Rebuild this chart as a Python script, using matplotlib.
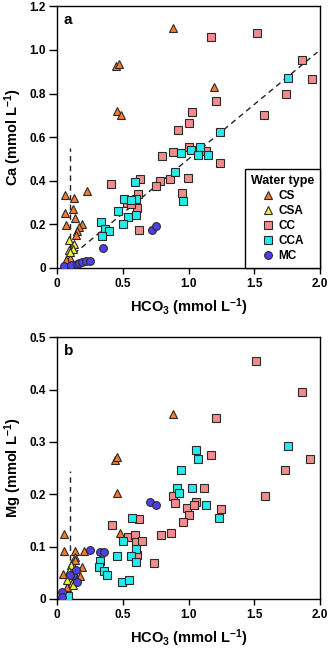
import matplotlib
matplotlib.use("Agg")
import matplotlib.pyplot as plt
from matplotlib.ticker import FuncFormatter

plt.rcParams['font.family'] = ['Liberation Sans', 'DejaVu Sans']
plt.rcParams['font.weight'] = 'bold'
plt.rcParams['mathtext.fontset'] = 'custom'
plt.rcParams['mathtext.rm'] = 'Liberation Sans:bold'
plt.rcParams['mathtext.default'] = 'rm'

# --- DATA: panel a (Ca vs HCO3) ---
cs_a_x = [0.88, 0.45, 0.47, 0.46, 0.49, 1.19, 0.23, 0.06, 0.13, 0.06, 0.12, 0.07, 0.14, 0.19, 0.17, 0.15, 0.147, 0.10, 0.066]
cs_a_y = [1.10, 0.925, 0.935, 0.72, 0.70, 0.83, 0.355, 0.336, 0.32, 0.25, 0.27, 0.195, 0.23, 0.20, 0.19, 0.17, 0.153, 0.046, 0.035]

csa_a_x = [0.09, 0.13, 0.09, 0.12, 0.10]
csa_a_y = [0.13, 0.11, 0.084, 0.086, 0.075]

cc_a_x = [1.17, 1.52, 1.86, 1.94, 1.74, 1.57, 1.21, 1.03, 1.00, 0.92, 0.80, 0.88, 1.007, 1.13, 1.24,
          0.78, 0.756, 0.63, 0.86, 0.994, 0.95, 0.616, 0.61, 0.62, 0.41, 0.53, 0.566]
cc_a_y = [1.06, 1.078, 0.955, 0.867, 0.80, 0.70, 0.767, 0.717, 0.665, 0.631, 0.512, 0.533, 0.556, 0.537, 0.482,
          0.40, 0.378, 0.41, 0.41, 0.414, 0.342, 0.34, 0.277, 0.175, 0.385, 0.30, 0.295]

cca_a_x = [1.755, 1.24, 0.94, 1.02, 1.085, 1.07, 1.15, 0.90, 0.596, 0.96, 0.51, 0.60, 0.566, 0.464, 0.54,
           0.60, 0.50, 0.332, 0.363, 0.395, 0.345]
cca_a_y = [0.873, 0.624, 0.529, 0.54, 0.556, 0.517, 0.52, 0.44, 0.394, 0.309, 0.318, 0.316, 0.31, 0.26, 0.234,
           0.244, 0.20, 0.21, 0.18, 0.168, 0.148]

mc_a_x = [0.05, 0.11, 0.15, 0.17, 0.19, 0.22, 0.25, 0.35, 0.725, 0.75]
mc_a_y = [0.007, 0.015, 0.02, 0.024, 0.027, 0.03, 0.033, 0.092, 0.176, 0.194]

# --- DATA: panel b (Mg vs HCO3) ---
cs_b_x = [0.88, 0.44, 0.46, 0.456, 0.477, 0.053, 0.051, 0.135, 0.205, 0.14, 0.117, 0.135, 0.187, 0.046, 0.097, 0.178, 0.076, 0.084]
cs_b_y = [0.353, 0.266, 0.272, 0.202, 0.126, 0.124, 0.092, 0.092, 0.092, 0.08, 0.068, 0.075, 0.062, 0.048, 0.048, 0.043, 0.022, 0.036]

csa_b_x = [0.11, 0.09, 0.127, 0.10, 0.08, 0.114, 0.12]
csa_b_y = [0.065, 0.054, 0.05, 0.041, 0.036, 0.03, 0.026]

cc_b_x = [1.51, 1.86, 1.207, 1.174, 1.92, 1.73, 1.12, 1.58, 0.88, 0.895, 0.99, 1.06, 1.04, 1.00, 0.96, 1.245,
          0.87, 0.79, 0.42, 0.54, 0.59, 0.60, 0.645, 0.62, 0.61, 0.74]
cc_b_y = [0.454, 0.396, 0.345, 0.275, 0.267, 0.247, 0.213, 0.196, 0.197, 0.183, 0.173, 0.186, 0.179, 0.16, 0.148, 0.172,
          0.127, 0.122, 0.141, 0.119, 0.122, 0.108, 0.11, 0.152, 0.084, 0.069]

cca_b_x = [1.06, 1.07, 1.76, 0.94, 0.91, 1.03, 0.93, 1.136, 1.23, 0.57, 0.50, 0.60, 0.566, 0.60, 0.456, 0.33,
           0.317, 0.358, 0.383, 0.497, 0.547, 0.084]
cca_b_y = [0.285, 0.268, 0.293, 0.247, 0.213, 0.213, 0.202, 0.18, 0.154, 0.155, 0.11, 0.095, 0.082, 0.07, 0.083, 0.073,
           0.061, 0.054, 0.045, 0.033, 0.036, 0.006]

mc_b_x = [0.035, 0.04, 0.12, 0.145, 0.15, 0.10, 0.25, 0.33, 0.36, 0.71, 0.75]
mc_b_y = [0.013, 0.004, 0.045, 0.055, 0.033, 0.046, 0.093, 0.09, 0.09, 0.185, 0.18]

# reference lines
ratio_x = [0.13, 1.98]
ratio_slope = 0.5
vline_x = 0.10
vline_top_a = 0.55
vline_top_b = 0.245

# --- STYLE ---
styles = {
    'CS':  dict(marker='^', color='#F47C2C', ms=6.2),
    'CSA': dict(marker='^', color='#F2F03A', ms=6.2),
    'CC':  dict(marker='s', color='#F28C8C', ms=5.4),
    'CCA': dict(marker='s', color='#22ECEC', ms=5.4),
    'MC':  dict(marker='o', color='#4F3FEA', ms=5.6),
}

def fmt(v, pos):
    if abs(v) < 1e-9:
        return '0'
    return '%.1f' % v


def draw_panel(ax, series, ylim, yticks, ylabel, letter, vtop):
    ax.plot([vline_x, vline_x], [0, vtop], ls=(0, (4, 3)), color='#222222', lw=1.0, zorder=1)
    for name, (xs, ys) in series.items():
        st = styles[name]
        ax.plot(xs, ys, ls='none', marker=st['marker'], ms=st['ms'], mfc=st['color'],
                mec='#2a2a2a', mew=0.8, label=name, zorder=3)
    ax.set_xlim(0, 2.0)
    ax.set_ylim(*ylim)
    ax.set_xticks([0, 0.5, 1.0, 1.5, 2.0])
    ax.set_yticks(yticks)
    ax.xaxis.set_major_formatter(FuncFormatter(fmt))
    ax.yaxis.set_major_formatter(FuncFormatter(fmt))
    ax.tick_params(axis='y', direction='out', length=6, width=1.0, labelsize=8.5, pad=2)
    ax.tick_params(axis='x', direction='out', length=4.5, width=1.0, labelsize=8.5, pad=3)
    for lab in ax.get_xticklabels() + ax.get_yticklabels():
        lab.set_fontweight('bold')
    for sp in ax.spines.values():
        sp.set_linewidth(1.0)
    ax.set_xlabel(r'HCO$_3$ (mmol L$^{-1}$)', fontsize=10.5, fontweight='bold', labelpad=4)
    ax.set_ylabel(ylabel, fontsize=10.5, fontweight='bold', labelpad=4)
    ax.text(0.025, 0.975, letter, transform=ax.transAxes, ha='left', va='top',
            fontsize=11, fontweight='bold')


fig = plt.figure(figsize=(3.31, 6.5), dpi=100)
ax_a = fig.add_axes([0.172, 0.5877, 0.795, 0.4026])
ax_b = fig.add_axes([0.172, 0.0785, 0.795, 0.4025])

series_a = {'CS': (cs_a_x, cs_a_y), 'CSA': (csa_a_x, csa_a_y), 'CC': (cc_a_x, cc_a_y),
            'CCA': (cca_a_x, cca_a_y), 'MC': (mc_a_x, mc_a_y)}
series_b = {'CS': (cs_b_x, cs_b_y), 'CSA': (csa_b_x, csa_b_y), 'CC': (cc_b_x, cc_b_y),
            'CCA': (cca_b_x, cca_b_y), 'MC': (mc_b_x, mc_b_y)}

# 1:2 line in panel a
ax_a.plot(ratio_x, [ratio_slope * v for v in ratio_x], ls=(0, (4, 3)), color='#222222', lw=1.0, zorder=2)

draw_panel(ax_a, series_a, (0, 1.2), [0, 0.2, 0.4, 0.6, 0.8, 1.0, 1.2], r'Ca (mmol L$^{-1}$)', 'a', vline_top_a)
draw_panel(ax_b, series_b, (0, 0.5), [0, 0.1, 0.2, 0.3, 0.4, 0.5], r'Mg (mmol L$^{-1}$)', 'b', vline_top_b)

leg = ax_a.legend(loc='lower right', bbox_to_anchor=(1.0, 0.0), borderaxespad=0, title='Water type',
                  fontsize=8.5, title_fontsize=9, frameon=True, fancybox=False, framealpha=1,
                  edgecolor='black', handletextpad=0.3, handlelength=1.1, labelspacing=0.25,
                  borderpad=0.5)
leg.get_title().set_fontweight('bold')
leg.get_frame().set_linewidth(1.0)
for t in leg.get_texts():
    t.set_fontweight('bold')

fig.savefig('out.png', dpi=100)
